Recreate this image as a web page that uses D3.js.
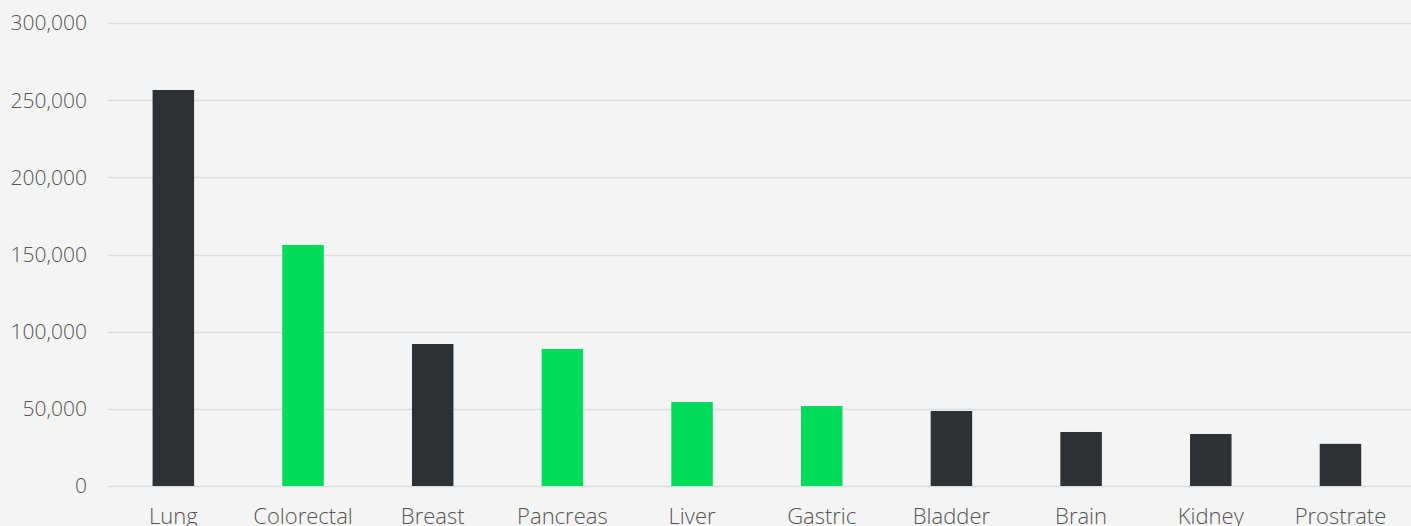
<!DOCTYPE html>
<html>
<head>
<meta charset="utf-8">
<script src="https://d3js.org/d3.v7.min.js"></script>
<style>
  html, body { margin: 0; padding: 0; background: #f4f4f4; overflow: hidden; }
  svg text { font-family: "Open Sans", sans-serif; font-weight: 300; fill: #555; }
</style>
</head>
<body>
<script>
(function(){

//chart data
var categories = ["Lung", "Colorectal", "Breast", "Pancreas", "Liver", "Gastric", "Bladder", "Brain", "Kidney", "Prostrate"];
var deaths = [256600, 156200, 92000, 88800, 54400, 51800, 48600, 35000, 33700, 27300];
var highlighted = [false, true, false, true, true, true, false, false, false, false];
var yTicks = [0, 50000, 100000, 150000, 200000, 250000, 300000];

window.onload = drawChart();

function drawChart(){
    var width = 1411,
        height = 526;

    var svg = d3.select("body")
        .append("svg")
        .attr("width", width)
        .attr("height", height);

    svg.append("rect")
        .attr("width", width)
        .attr("height", height)
        .attr("fill", "#f4f4f4");

    var x = d3.scaleBand()
        .domain(categories)
        .range([108.5, 1405.3])
        .paddingInner(0.68)
        .paddingOuter(0.34);

    var y = d3.scaleLinear()
        .domain([0, 300000])
        .range([486, 23]);

    //gridlines
    svg.selectAll(".grid")
        .data(yTicks)
        .enter()
        .append("line")
        .attr("class", "grid")
        .attr("x1", 108)
        .attr("x2", width)
        .attr("y1", function(d){ return Math.round(y(d)) + 0.5; })
        .attr("y2", function(d){ return Math.round(y(d)) + 0.5; })
        .attr("stroke", "#dcdcdc")
        .attr("stroke-width", 1.5);

    //y tick labels
    svg.selectAll(".ylab")
        .data(yTicks)
        .enter()
        .append("text")
        .attr("class", "ylab")
        .attr("x", 87)
        .attr("y", function(d){ return y(d); })
        .attr("dy", "0.35em")
        .attr("text-anchor", "end")
        .style("font-size", "21px")
        .text(function(d){ return d3.format(",")(d); });

    //bars
    svg.selectAll(".bar")
        .data(categories)
        .enter()
        .append("rect")
        .attr("class", "bar")
        .attr("x", function(d){ return x(d); })
        .attr("width", x.bandwidth())
        .attr("y", function(d, i){ return y(deaths[i]); })
        .attr("height", function(d, i){ return y(0) - y(deaths[i]); })
        .attr("fill", function(d, i){ return highlighted[i] ? "#00db5a" : "#2e3134"; });

    //category labels (cut by the bottom edge, as in the original)
    svg.selectAll(".xlab")
        .data(categories)
        .enter()
        .append("text")
        .attr("class", "xlab")
        .attr("x", function(d){ return x(d) + x.bandwidth() / 2; })
        .attr("y", 524)
        .attr("text-anchor", "middle")
        .style("font-size", "22px")
        .text(function(d){ return d; });
};

})();
</script>
</body>
</html>
